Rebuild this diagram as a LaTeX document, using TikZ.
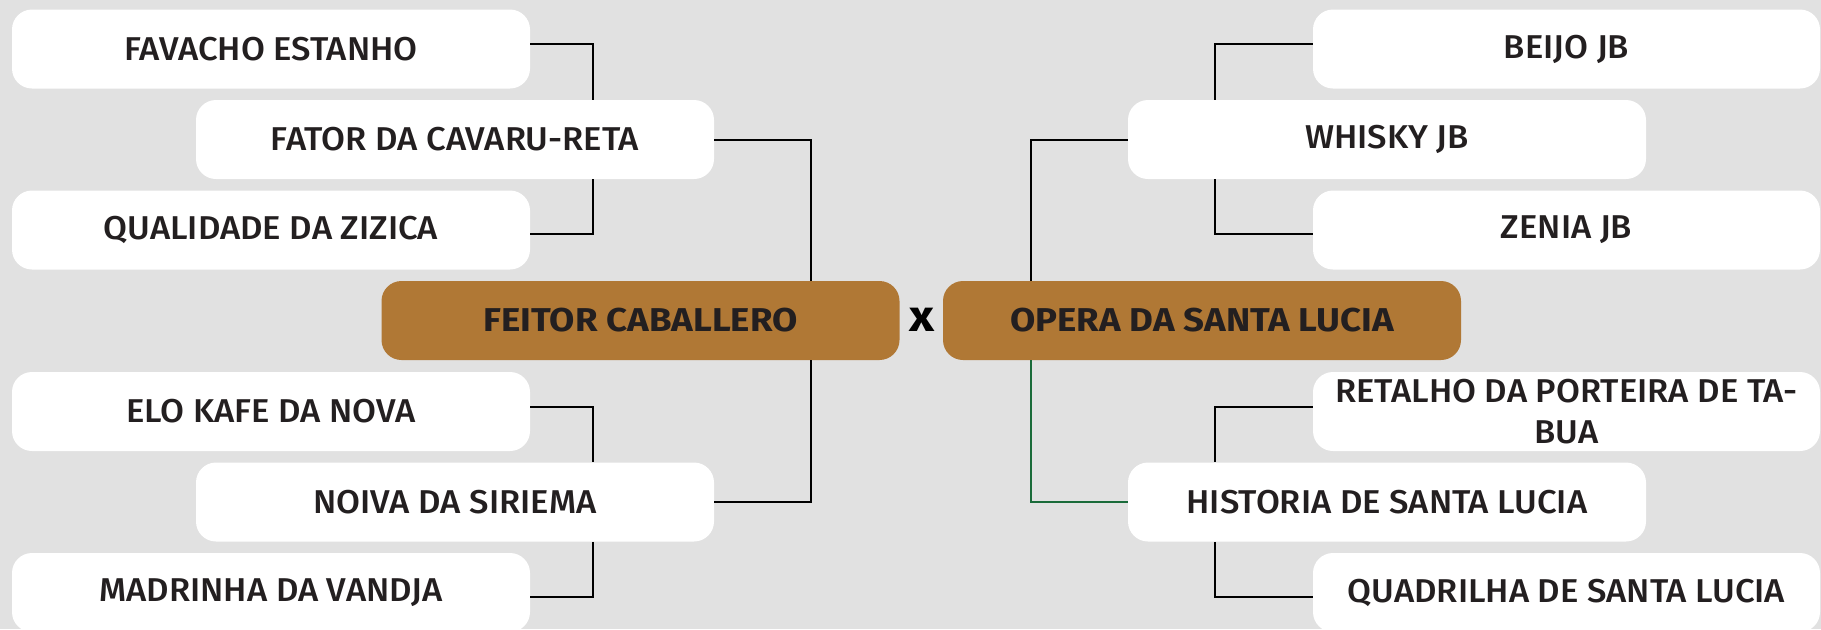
\documentclass[tikz,border=0pt]{standalone}
\usepackage{fontspec}
\setmainfont{Fira Sans}[UprightFont=* Medium, BoldFont=* Bold,
  UprightFeatures={FakeStretch=1.05}, BoldFeatures={FakeStretch=1.11}]
\usetikzlibrary{positioning}
\definecolor{fundo}{HTML}{E1E1E1}
\definecolor{ouro}{HTML}{B07835}
\definecolor{texto}{HTML}{231F20}
\definecolor{verde}{HTML}{1A6B3A}
\tikzset{
  cavalo/.style={fill=white, rounded corners=10pt, inner sep=0pt,
    minimum width=259pt, minimum height=39.5pt, text=texto,
    font=\fontsize{16.5}{20.5}\selectfont, align=center},
  finalista/.style={cavalo, fill=ouro, font=\bfseries\fontsize{16.5}{20.5}\selectfont},
  liga/.style={draw=black, line width=1pt}
}
\begin{document}
\begin{tikzpicture}[x=0.5pt, y=-0.5pt]
      \fill[fundo] (0,0) rectangle (1821,629);
      \useasboundingbox (0,0) rectangle (1821,629);
      \coordinate (jl) at (593,0);
      \coordinate (kl) at (811,0);
      \coordinate (jr) at (1215,0);
      \coordinate (kr) at (1031,0);

      % left bracket
      \node[cavalo] (favacho) at (271,49) {FAVACHO ESTANHO};
      \node[cavalo] (fator) at (455,139.5) {FATOR DA CAVARU-RETA};
      \node[cavalo] (qualidade) at (271,230) {QUALIDADE DA ZIZICA};
      \node[cavalo] (elo) at (271,411.5) {ELO KAFE DA NOVA};
      \node[cavalo] (noiva) at (455,502) {NOIVA DA SIRIEMA};
      \node[cavalo] (madrinha) at (271,592.5) {MADRINHA DA VANDJA};

      % right bracket
      \node[cavalo, minimum width=253.5pt] (beijo) at (1566.5,49) {BEIJO JB};
      \node[cavalo] (whisky) at (1387,139.5) {WHISKY JB};
      \node[cavalo, minimum width=253.5pt] (zenia) at (1566.5,230) {ZENIA JB};
      \node[cavalo, minimum width=253.5pt] (retalho) at (1566.5,411.5) {RETALHO DA PORTEIRA DE TA-\\BUA};
      \node[cavalo] (historia) at (1387,502) {HISTORIA DE SANTA LUCIA};
      \node[cavalo, minimum width=253.5pt] (quadrilha) at (1566.5,592.5) {QUADRILHA DE SANTA LUCIA};

      % final
      \node[finalista] (feitor) at (640.5,320.5) {FEITOR CABALLERO};
      \node[finalista] (opera) at (1202,320.5) {OPERA DA SANTA LUCIA};
      \node[font=\bfseries\fontsize{22}{24}\selectfont] (versus) at (922,320) {x};

      \draw[liga] ([yshift=2.75pt]favacho.east) -| (fator.north -| jl);
      \draw[liga] (fator.south -| jl) |- ([yshift=-2pt]qualidade.east);
      \draw[liga] (fator.east) -| (feitor.north -| kl);
      \draw[liga] ([yshift=2.25pt]elo.east) -| (noiva.north -| jl);
      \draw[liga] (noiva.south -| jl) |- ([yshift=-2.25pt]madrinha.east);
      \draw[liga] (noiva.east) -| (feitor.south -| kl);

      \draw[liga] ([yshift=2.75pt]beijo.west) -| (whisky.north -| jr);
      \draw[liga] (whisky.south -| jr) |- ([yshift=-2pt]zenia.west);
      \draw[liga] (whisky.west) -| (opera.north -| kr);
      \draw[liga] ([yshift=2.25pt]retalho.west) -| (historia.north -| jr);
      \draw[liga] (historia.south -| jr) |- ([yshift=-2.25pt]quadrilha.west);
      \draw[liga, draw=verde] (historia.west) -| (opera.south -| kr);
    \end{tikzpicture}
\end{document}
